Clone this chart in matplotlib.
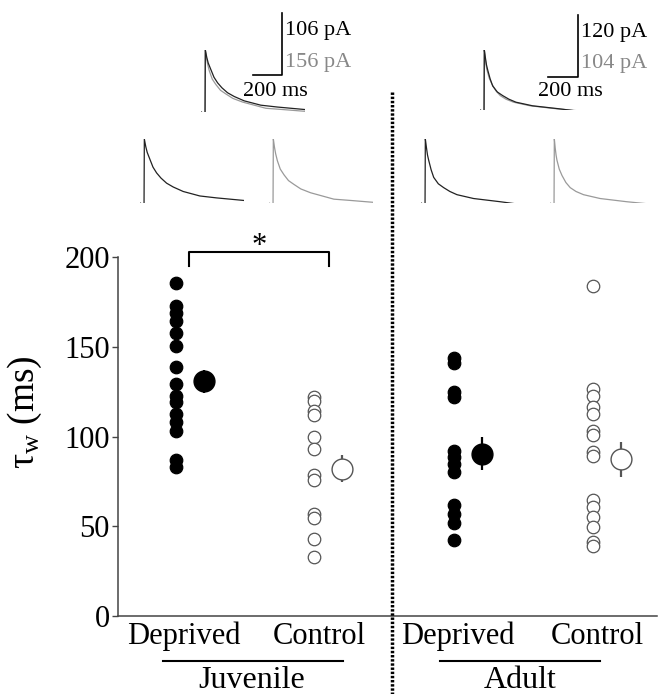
import matplotlib
matplotlib.use("Agg")
import matplotlib.pyplot as plt

plt.rcParams['font.family'] = ['Liberation Serif', 'DejaVu Serif']
plt.rcParams['mathtext.fontset'] = 'custom'
plt.rcParams['mathtext.rm'] = 'Liberation Serif'
plt.rcParams['mathtext.it'] = 'Liberation Serif:italic'

# tau_w values (ms)
juv_dep = [185.4, 172.8, 169, 164.4, 157.6, 150.6, 138.9, 129.3, 122.8, 119, 112.6, 108, 103.3, 86.7, 83]
juv_ctl = [122.2, 120, 114.4, 111.7, 99.6, 93.1, 78.7, 76, 57, 54.8, 43.1, 32.6]
ad_dep = [143.7, 140.7, 124.6, 121.8, 92.2, 88.5, 84.8, 80.2, 61.7, 57, 51.8, 42.6]
ad_ctl = [183.9, 126.5, 122.8, 116.3, 112.6, 103.3, 100.6, 91.3, 89.4, 64.4, 60.7, 55.2, 49.6, 41.3, 38.9]
means = [130.7, 82, 90.4, 87.2]
sems = [6.5, 7.5, 9.2, 9.7]
labels = ['Deprived', 'Control', 'Deprived', 'Control']

# example traces (time in ms, amplitude normalised to peak)
t_jd = [-30, -4, -2, 0, 10, 20, 39, 60, 85, 115, 154, 200, 269, 384, 499, 688]
v_jd = [0, -0.03, 0, 1, .88, .79, .68, .56, .47, .39, .31, .25, .18, .11, .08, .04]
t_jc = [-30, -4, -2, 0, 8, 16, 28, 48, 74, 105, 143, 190, 258, 419, 534, 695]
v_jc = [0, -0.03, 0, 1, .87, .77, .66, .53, .44, .35, .29, .22, .16, .06, .04, .01]
t_ad = [-30, -4, -2, 0, 8, 15, 23, 40, 58, 90, 127, 170, 219, 334, 518, 683]
v_ad = [0, -0.03, 0, 1, .86, .75, .67, .52, .40, .30, .24, .18, .13, .07, .02, -.03]
t_ac = [-30, -4, -2, 0, 6, 12, 18, 34, 53, 80, 110, 150, 202, 317, 501, 678]
v_ac = [0, -0.03, 0, 1, .86, .75, .67, .53, .43, .32, .24, .18, .13, .07, .02, -.02]

W, H = 658, 694
fig = plt.figure(figsize=(W / 100, H / 100), dpi=100)


def px_axes(x0, y0, x1, y1):
    ax = fig.add_axes([x0 / W, 1 - y1 / H, (x1 - x0) / W, (y1 - y0) / H])
    return ax


def trace_axes(x0, y0, x1, y1):
    ax = px_axes(x0, y0, x1, y1)
    ax.set_xlim(-30, 690)
    ax.set_ylim(0, 1)
    ax.axis('off')
    return ax


dark = '#222222'
grey = '#9a9a9a'

# main scatter
ax = px_axes(118, 257, 657, 616)
xpos = [1.08, 3.64, 6.23, 8.81]
groups = [juv_dep, juv_ctl, ad_dep, ad_ctl]
for i, vals in enumerate(groups):
    filled = i % 2 == 0
    mfc = 'black' if filled else 'white'
    mec = 'black' if filled else '#555555'
    ax.plot([xpos[i]] * len(vals), vals, 'o', ms=9, mfc=mfc, mec=mec,
            mew=0.9, ls='none', zorder=3)
    ax.errorbar(xpos[i] + 0.52, means[i], yerr=sems[i], fmt='o', ms=15,
                mfc=mfc, mec=mec, mew=1.0, ecolor=mec, elinewidth=1.6,
                capsize=0, zorder=4)

ax.set_xlim(0, 10)
ax.set_ylim(0, 200)
ax.set_yticks([0, 50, 100, 150, 200])
ax.set_xticks([])
for s in ['top', 'right']:
    ax.spines[s].set_visible(False)
for s in ['left', 'bottom']:
    ax.spines[s].set_color('#444444')
    ax.spines[s].set_linewidth(1.1)
ax.tick_params(axis='y', direction='out', length=4, width=1, color='#444444',
               labelsize=22, pad=2)

# significance bracket
ax.plot([1.32, 1.32, 3.92, 3.92], [195, 203, 203, 195], color='black', lw=1.5,
        clip_on=False)
ax.text(2.62, 197.5, '*', ha='center', va='bottom', fontsize=22)

fig.text(25 / W, 1 - 412 / H, r'τ$_{\mathrm{w}}$ (ms)', rotation=90,
         ha='center', va='center', fontsize=27)

# decorations in pixel coordinates
deco = fig.add_axes([0, 0, 1, 1])
deco.set_xlim(0, W)
deco.set_ylim(H, 0)
deco.axis('off')
deco.patch.set_alpha(0)

deco.plot([392, 392], [92, 694], color='black', lw=2.5, ls=(0, (0.7, 0.5)))

for cx, lab in zip([184, 319, 458, 597], labels):
    deco.text(cx, 636, lab, ha='center', va='center', fontsize=22)
deco.plot([163, 343], [661, 661], color='black', lw=1.5)
deco.plot([440, 600], [661, 661], color='black', lw=1.5)
deco.text(252, 680, 'Juvenile', ha='center', va='center', fontsize=23)
deco.text(520, 680, 'Adult', ha='center', va='center', fontsize=23)

# scale bars
deco.plot([253, 282, 282], [75, 75, 13], color='black', lw=1.2)
deco.text(285, 30, '106 pA', ha='left', va='center', fontsize=16, color='black')
deco.text(285, 62, '156 pA', ha='left', va='center', fontsize=16, color='#888888')
deco.text(275, 91, '200 ms', ha='center', va='center', fontsize=16)
deco.plot([548, 578, 578], [77, 77, 15], color='black', lw=1.2)
deco.text(581, 32, '120 pA', ha='left', va='center', fontsize=16, color='black')
deco.text(581, 63, '104 pA', ha='left', va='center', fontsize=16, color='#888888')
deco.text(570, 91, '200 ms', ha='center', va='center', fontsize=16)

# traces
tj = trace_axes(201, 50, 305, 112)
tj.plot(t_jc, v_jc, color=grey, lw=0.9)
tj.plot(t_jd, v_jd, color=dark, lw=0.9)
ta = trace_axes(480, 50, 584, 110)
ta.plot(t_ac, v_ac, color=grey, lw=0.9)
ta.plot(t_ad, v_ad, color=dark, lw=0.9)

trace_axes(140, 139, 244, 203).plot(t_jd, v_jd, color=dark, lw=0.9)
trace_axes(269, 139, 373, 203).plot(t_jc, v_jc, color=grey, lw=0.9)
trace_axes(421, 139, 525, 203).plot(t_ad, v_ad, color=dark, lw=0.9)
trace_axes(550, 139, 654, 203).plot(t_ac, v_ac, color=grey, lw=0.9)

fig.savefig('out.png', dpi=100)
